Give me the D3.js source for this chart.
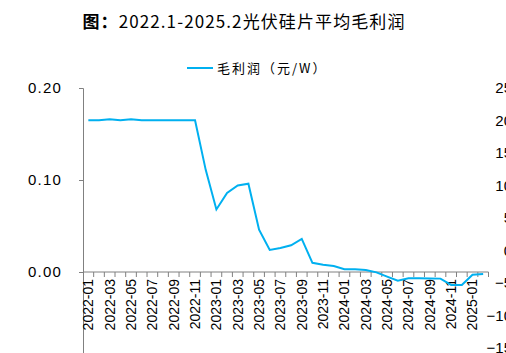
<!DOCTYPE html>
<html>
<head>
<meta charset="utf-8">
<script src="https://cdn.jsdelivr.net/npm/d3@7"></script>
<style>
  body { margin: 0; background: #fff; }
  svg { display: block; }
</style>
</head>
<body>
<svg id="chart"></svg>
<script>
// monthly wafer margin, 2022-01 .. 2025-02
const months = []
for (let y = 2022; y <= 2025; y++) {
    for (let m = 1; m <= 12; m++) {
        if (y === 2025 && m > 2) break
        months.push(y + '-' + String(m).padStart(2, '0'))
    }
}
const margin = [
    0.165, 0.165, 0.166, 0.165, 0.166, 0.165, 0.165, 0.165, 0.165, 0.165, 0.165, 0.111,
    0.068, 0.086, 0.094, 0.096, 0.046, 0.024, 0.026, 0.029, 0.036, 0.010, 0.008, 0.0065,
    0.003, 0.003, 0.0022, -0.0004, -0.005, -0.0094, -0.0069, -0.0069, -0.007, -0.0072, -0.0141, -0.0141,
    -0.0029, -0.0022
]
const leftTicks = [0, 0.1, 0.2]
const rightTicks = [-15, -10, -5, 0, 5, 10, 15, 20, 25]

const width = 506
const height = 353

let svg = d3.select('#chart').attr('width', width).attr('height', height)

let x = d3.scaleBand().domain(months).range([83, 488.5]).padding(0)
let yL = d3.scaleLinear().domain([-0.1, 0.2]).range([364, 88])
let yR = d3.scaleLinear().domain([-15, 25]).range([348, 88])

// title
let title = svg.append('text')
    .attr('x', 244).attr('y', 28)
    .attr('text-anchor', 'middle')
    .style('font-family', '"Noto Sans CJK SC", sans-serif')
    .style('font-size', '17px')
    .style('letter-spacing', '1.1px')
    .style('fill', '#000')
title.append('tspan').style('font-weight', 'bold').text('图：')
title.append('tspan').text('2022.1-2025.2光伏硅片平均毛利润')

// legend
svg.append('line')
    .attr('x1', 187).attr('x2', 213).attr('y1', 68).attr('y2', 68)
    .attr('stroke', '#00B0F0').attr('stroke-width', 2)
svg.append('text')
    .attr('x', 217).attr('y', 73)
    .style('font-family', '"Noto Sans CJK SC", sans-serif')
    .style('font-size', '13px')
    .style('letter-spacing', '2px')
    .text('毛利润（元/W）')

// left axis
let leftAxis = svg.append('g')
    .attr('transform', 'translate(83,0)')
    .call(d3.axisLeft(yL).tickValues(leftTicks).tickFormat(d3.format('.2f')).tickSize(4).tickPadding(17))
leftAxis.select('.domain').attr('stroke', '#808080')
leftAxis.selectAll('.tick line').attr('stroke', '#808080')
leftAxis.selectAll('text')
    .style('font-family', '"Liberation Sans", Arial, sans-serif')
    .style('font-size', '15px')
    .style('letter-spacing', '1.2px')
    .attr('fill', '#000')

// right axis (labels only, cut off at the edge)
let rightAxis = svg.append('g')
    .attr('transform', 'translate(512,0)')
    .call(d3.axisLeft(yR).tickValues(rightTicks).tickSize(0).tickPadding(0))
rightAxis.select('.domain').remove()
rightAxis.selectAll('text')
    .style('font-family', '"Liberation Sans", Arial, sans-serif')
    .style('font-size', '15px')
    .attr('fill', '#000')

// x axis at zero
let y0 = yL(0)
svg.append('line')
    .attr('x1', 83).attr('x2', x.range()[1])
    .attr('y1', y0).attr('y2', y0)
    .attr('stroke', '#808080')
svg.append('g').selectAll('line')
    .data(months.slice(1).concat(['end']))
    .enter().append('line')
    .attr('x1', d => d === 'end' ? x.range()[1] : x(d))
    .attr('x2', d => d === 'end' ? x.range()[1] : x(d))
    .attr('y1', y0).attr('y2', y0 + 5)
    .attr('stroke', '#808080')

svg.append('g').selectAll('text')
    .data(months.filter((d, i) => i % 2 === 0))
    .enter().append('text')
    .attr('transform', d => 'translate(' + (x(d) + x.bandwidth() / 2 + 5) + ',' + (y0 + 7) + ') rotate(-90)')
    .attr('text-anchor', 'end')
    .style('font-family', '"Liberation Sans", Arial, sans-serif')
    .style('font-size', '14px')
    .text(d => d)

// line
let line = d3.line()
    .x((d, i) => x(months[i]) + x.bandwidth() / 2)
    .y(d => yL(d))
svg.append('path')
    .datum(margin)
    .attr('d', line)
    .attr('fill', 'none')
    .attr('stroke', '#00B0F0')
    .attr('stroke-width', 2)
</script>
</body>
</html>
